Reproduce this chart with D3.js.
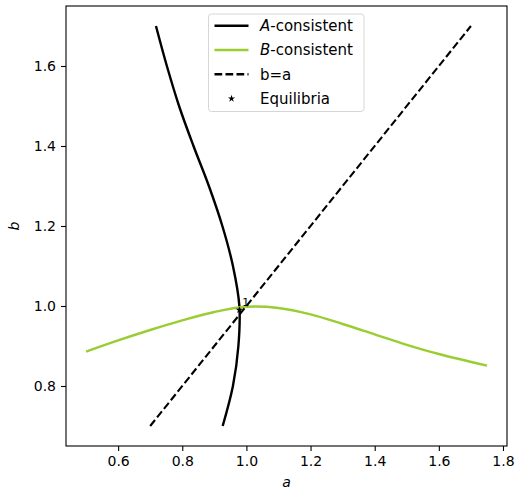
<!DOCTYPE html>
<html>
<head>
<meta charset="utf-8">
<script src="https://cdn.jsdelivr.net/npm/d3@7"></script>
<style>
  body { margin: 0; background: #fff; }
  text { font-family: "DejaVu Sans", sans-serif; }
</style>
</head>
<body>
<div id="chart"></div>
<script>
// A-consistent curve: a read at each b
const aCurveB = [1.70, 1.60, 1.50, 1.40, 1.30, 1.20, 1.10, 1.00, 0.90, 0.80, 0.70];
const aCurveA = [0.718, 0.752, 0.790, 0.835, 0.883, 0.925, 0.958, 0.978, 0.975, 0.958, 0.926];

// B-consistent curve: b read at each a
const bCurveA = [0.50, 0.60, 0.70, 0.80, 0.90, 1.00, 1.10, 1.20, 1.30, 1.40, 1.50, 1.60, 1.75];
const bCurveB = [0.886, 0.914, 0.940, 0.964, 0.985, 0.998, 0.995, 0.979, 0.955, 0.929, 0.903, 0.880, 0.851];

const diagonal = [0.7, 1.7];
const equilibria = [{ a: 0.978, b: 0.99, label: "1" }];

const xTicks = [0.6, 0.8, 1.0, 1.2, 1.4, 1.6, 1.8];
const yTicks = [0.8, 1.0, 1.2, 1.4, 1.6];

const width = 516, height = 490;
const margin = { left: 66, right: 9, top: 6, bottom: 44 };

const svg = d3.select("#chart").append("svg")
    .attr("width", width)
    .attr("height", height);

const x = d3.scaleLinear().domain([0.4375, 1.8125]).range([margin.left, width - margin.right]);
const y = d3.scaleLinear().domain([0.65, 1.75]).range([height - margin.bottom, margin.top]);

const line = d3.line().x(d => x(d[0])).y(d => y(d[1])).curve(d3.curveCatmullRom.alpha(0.5));

const plot = svg.append("g");

plot.append("path")
    .datum(aCurveB.map((b, i) => [aCurveA[i], b]))
    .attr("d", line)
    .attr("fill", "none")
    .attr("stroke", "#000")
    .attr("stroke-width", 2.4);

plot.append("path")
    .datum(bCurveA.map((a, i) => [a, bCurveB[i]]))
    .attr("d", line)
    .attr("fill", "none")
    .attr("stroke", "#9acd32")
    .attr("stroke-width", 2.4);

plot.append("path")
    .datum(diagonal.map(v => [v, v]))
    .attr("d", d3.line().x(d => x(d[0])).y(d => y(d[1])))
    .attr("fill", "none")
    .attr("stroke", "#000")
    .attr("stroke-width", 2.1)
    .attr("stroke-dasharray", "7.7,3.3");

const star = d3.symbol().type(d3.symbolStar).size(16);

plot.selectAll(".eq")
    .data(equilibria)
    .enter()
    .append("path")
    .attr("class", "eq")
    .attr("d", star)
    .attr("transform", d => `translate(${x(d.a)},${y(d.b)})`)
    .attr("fill", "#000");

plot.selectAll(".eqlabel")
    .data(equilibria)
    .enter()
    .append("text")
    .attr("class", "eqlabel")
    .attr("x", d => x(d.a) + 3)
    .attr("y", d => y(d.b) - 4)
    .attr("font-size", 11)
    .text(d => d.label);

// axes
const xAxis = d3.axisBottom(x).tickValues(xTicks).tickFormat(d3.format(".1f")).tickSize(5).tickPadding(5);
const yAxis = d3.axisLeft(y).tickValues(yTicks).tickFormat(d3.format(".1f")).tickSize(5).tickPadding(5);

const gx = svg.append("g")
    .attr("transform", `translate(0,${height - margin.bottom})`)
    .call(xAxis);
const gy = svg.append("g")
    .attr("transform", `translate(${margin.left},0)`)
    .call(yAxis);

[gx, gy].forEach(g => {
    g.select(".domain").remove();
    g.selectAll("line").attr("stroke", "#000").attr("stroke-width", 1.1);
    g.selectAll("text").attr("font-size", 14).attr("fill", "#000")
        .style("font-family", "DejaVu Sans, sans-serif");
});

svg.append("rect")
    .attr("x", margin.left)
    .attr("y", margin.top)
    .attr("width", width - margin.left - margin.right)
    .attr("height", height - margin.bottom - margin.top)
    .attr("fill", "none")
    .attr("stroke", "#000")
    .attr("stroke-width", 1.1);

svg.append("text")
    .attr("x", (margin.left + width - margin.right) / 2)
    .attr("y", 487)
    .attr("text-anchor", "middle")
    .attr("font-size", 14)
    .attr("font-style", "italic")
    .text("a");

svg.append("text")
    .attr("transform", `translate(19,${(margin.top + height - margin.bottom) / 2}) rotate(-90)`)
    .attr("text-anchor", "middle")
    .attr("font-size", 14)
    .attr("font-style", "italic")
    .text("b");

// legend
const legendItems = [
    { kind: "line", color: "#000", dash: null, italic: "A", rest: "-consistent" },
    { kind: "line", color: "#9acd32", dash: null, italic: "B", rest: "-consistent" },
    { kind: "line", color: "#000", dash: "7.7,3.3", italic: "", rest: "b=a" },
    { kind: "star", color: "#000", dash: null, italic: "", rest: "Equilibria" }
];

const legend = svg.append("g").attr("transform", "translate(208.5,14)");
legend.append("rect")
    .attr("width", 155.5)
    .attr("height", 97.5)
    .attr("rx", 3)
    .attr("fill", "#fff")
    .attr("fill-opacity", 0.8)
    .attr("stroke", "#d6d6d6")
    .attr("stroke-width", 1);

const rows = legend.selectAll(".row")
    .data(legendItems)
    .enter()
    .append("g")
    .attr("transform", (d, i) => `translate(0,${11.7 + i * 24.3})`);

rows.filter(d => d.kind === "line")
    .append("line")
    .attr("x1", 6).attr("x2", 40)
    .attr("stroke", d => d.color)
    .attr("stroke-width", 2.4)
    .attr("stroke-dasharray", d => d.dash);

rows.filter(d => d.kind === "star")
    .append("path")
    .attr("d", star)
    .attr("transform", "translate(23,0)")
    .attr("fill", "#000");

const labels = rows.append("text")
    .attr("x", 51.5)
    .attr("dy", "0.36em")
    .attr("font-size", 15);
labels.append("tspan").attr("font-style", "italic").text(d => d.italic);
labels.append("tspan").text(d => d.rest);
</script>
</body>
</html>
